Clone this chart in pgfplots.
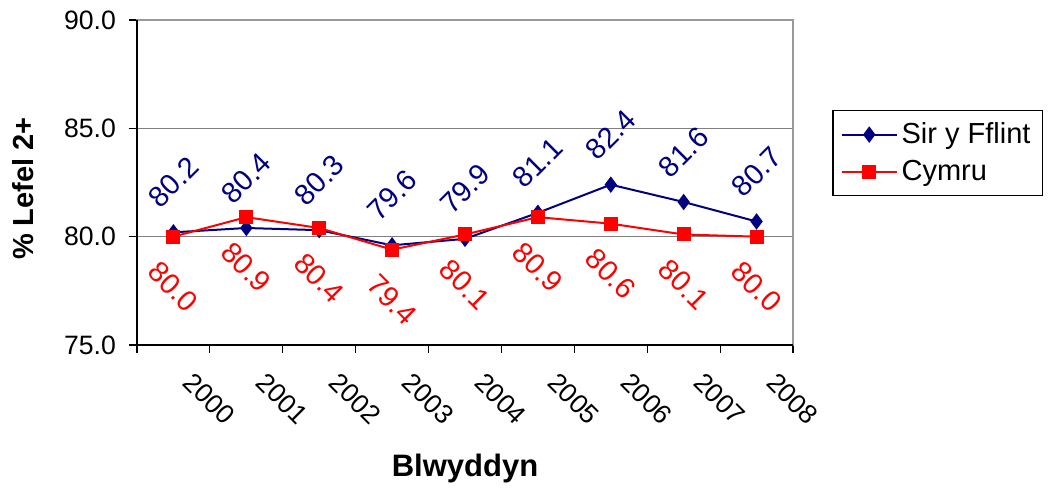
\documentclass[border=0pt]{standalone}
\usepackage{pgfplots}
\pgfplotsset{compat=1.18}
\usepackage{fontspec}
\setmainfont{Liberation Sans}
\definecolor{navyline}{RGB}{0,0,128}
\definecolor{redline}{RGB}{255,0,0}
\begin{document}
\begin{tikzpicture}
\begin{axis}[
scale only axis,
width=328pt, height=162.5pt,
xmin=-0.5, xmax=8.5,
ymin=75, ymax=90,
ytick={75,80,85,90},
xtick={0,...,8},
xticklabels={2000,2001,2002,2003,2004,2005,2006,2007,2008},
minor xtick={-0.5,0.5,...,8.5},
tick align=outside, tick pos=left,
major tick length=4pt, minor tick length=4pt,
major x tick style={draw=none},
tick style={black, line width=0.6pt},
ymajorgrids,
grid style={gray, line width=0.6pt},
axis line style={gray!80, line width=0.6pt},
clip=false,
font=\fontsize{13.3}{16}\selectfont,
yticklabel style={xshift=-3pt, /pgf/number format/.cd, fixed, fixed zerofill, precision=1, assume math mode=true},
xticklabel style={xshift=5pt, yshift=-10pt, rotate=-45, anchor=west},
xlabel={\bfseries Blwyddyn},
ylabel={\bfseries \% Lefel 2+},
every axis x label/.style={at={([yshift=-61.5pt]rel axis cs:0.5,0)}, anchor=center, font=\fontsize{15.5}{18}\selectfont},
every axis y label/.style={at={([xshift=-57pt, yshift=-3pt]rel axis cs:0,0.5)}, anchor=center, rotate=90, font=\fontsize{14.5}{17}\selectfont},
legend style={at={(rel axis cs:1.06,0.723)}, anchor=north west, draw=black, line width=0.6pt,
  font=\fontsize{14.5}{17}\selectfont, row sep=3pt, inner xsep=4pt, inner ysep=4pt},
legend cell align=left,
legend image code/.code={\draw[mark repeat=2, mark phase=2] plot coordinates {(0cm,0cm) (0.48cm,0cm) (0.96cm,0cm)};},
]
\addplot[navyline, line width=1pt, mark=diamond*, mark size=3.3pt, mark options={solid, fill=navyline},
  nodes near coords={\pgfmathprintnumber[fixed, fixed zerofill, precision=1, assume math mode=true]{\pgfplotspointmeta}},
  every node near coord/.style={anchor=center, yshift=25pt, rotate=45, text=navyline, font=\fontsize{14.5}{17}\selectfont}]
coordinates {(0,80.2) (1,80.4) (2,80.3) (3,79.6) (4,79.9) (5,81.1) (6,82.4) (7,81.6) (8,80.7)};
\addlegendentry{Sir y Fflint}
\addplot[redline, line width=1pt, mark=square*, mark size=3pt, mark options={solid, fill=redline},
  nodes near coords={\pgfmathprintnumber[fixed, fixed zerofill, precision=1, assume math mode=true]{\pgfplotspointmeta}},
  every node near coord/.style={anchor=center, yshift=-25pt, rotate=-45, text=redline, font=\fontsize{14.5}{17}\selectfont}]
coordinates {(0,80.0) (1,80.9) (2,80.4) (3,79.4) (4,80.1) (5,80.9) (6,80.6) (7,80.1) (8,80.0)};
\addlegendentry{Cymru}
\draw[black, line width=0.6pt] (rel axis cs:0,1) -- (rel axis cs:0,0) -- (rel axis cs:1,0);
\end{axis}
\path ([shift={(-68.5pt,-72pt)}]current axis.south west) rectangle ([shift={(457pt,172.5pt)}]current axis.south west);
\end{tikzpicture}
\end{document}
